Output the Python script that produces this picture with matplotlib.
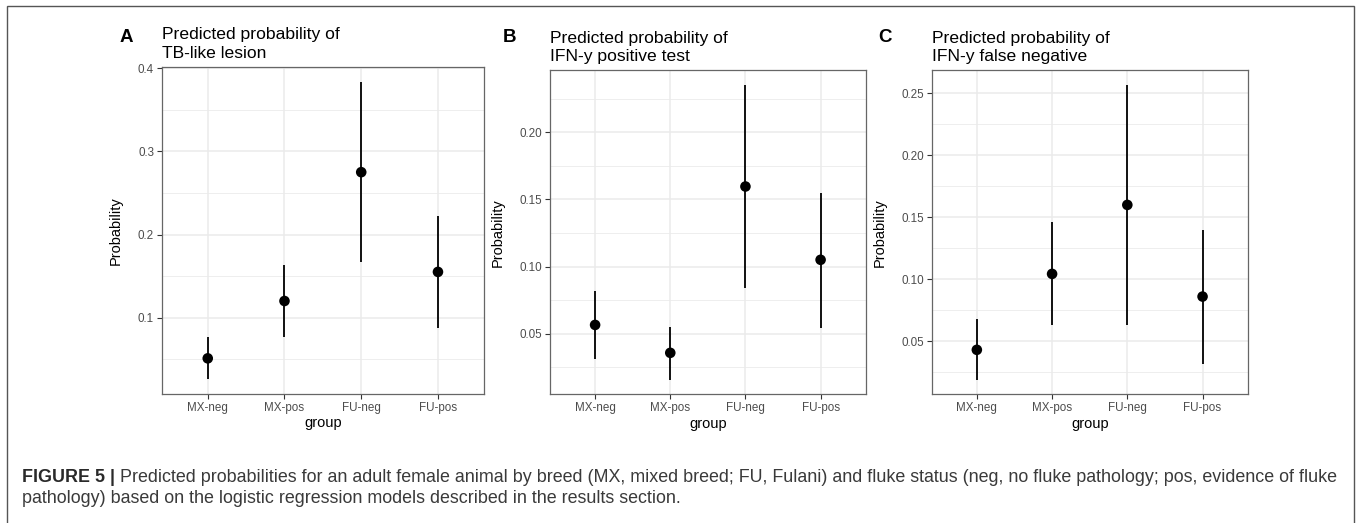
import matplotlib
matplotlib.use("Agg")
import matplotlib.pyplot as plt
from matplotlib.patches import Rectangle
from matplotlib.ticker import FixedLocator

plt.rcParams['font.family'] = ['Liberation Sans', 'DejaVu Sans']

groups = ["MX-neg", "MX-pos", "FU-neg", "FU-pos"]

# Panel A: TB-like lesion
a_est = [0.051, 0.120, 0.275, 0.155]
a_lo = [0.026, 0.077, 0.167, 0.088]
a_hi = [0.077, 0.163, 0.384, 0.222]

# Panel B: IFN-y positive test
b_est = [0.0565, 0.0357, 0.1596, 0.105]
b_lo = [0.031, 0.0158, 0.084, 0.0545]
b_hi = [0.0814, 0.055, 0.2354, 0.155]

# Panel C: IFN-y false negative
c_est = [0.043, 0.1043, 0.160, 0.086]
c_lo = [0.019, 0.063, 0.063, 0.0315]
c_hi = [0.0677, 0.146, 0.257, 0.140]

panel_letters = ["A", "B", "C"]
titles = [("Predicted probability of", "TB-like lesion"),
          ("Predicted probability of", "IFN-y positive test"),
          ("Predicted probability of", "IFN-y false negative")]
a_ticks = [0.1, 0.2, 0.3, 0.4]
a_labels = ["0.1", "0.2", "0.3", "0.4"]
b_ticks = [0.05, 0.10, 0.15, 0.20]
b_labels = ["0.05", "0.10", "0.15", "0.20"]
c_ticks = [0.05, 0.10, 0.15, 0.20, 0.25]
c_labels = ["0.05", "0.10", "0.15", "0.20", "0.25"]

caption_bold = "FIGURE 5 |"
caption_rest1 = (" Predicted probabilities for an adult female animal by breed (MX, mixed breed; FU, Fulani) "
                 "and fluke status (neg, no fluke pathology; pos, evidence of fluke")
caption_line2 = "pathology) based on the logistic regression models described in the results section."

W, H = 1357, 523
fig = plt.figure(figsize=(W / 100, H / 100), dpi=100)
fig.patch.set_facecolor("white")

def fx(px):
    return px / W

def fy(py):
    return (H - py) / H

# axes pixel boxes: left, top, right, bottom
boxes = [(161.7, 66.7, 484.0, 394.0),
         (550.0, 70.0, 865.7, 394.3),
         (931.7, 70.0, 1247.7, 394.3)]
letter_x = [126, 510, 885]
ylab_x = [122.5, 505, 886.7]

data = [(a_est, a_lo, a_hi, a_ticks, a_labels),
        (b_est, b_lo, b_hi, b_ticks, b_labels),
        (c_est, c_lo, c_hi, c_ticks, c_labels)]

grid_col = "#EBEBEB"
for i, (est, lo, hi, ticks, labels) in enumerate(data):
    l, t, r, b = boxes[i]
    ax = fig.add_axes([fx(l), fy(b), fx(r) - fx(l), fy(t) - fy(b)])
    x = list(range(len(groups)))
    ax.vlines(x, lo, hi, color="black", lw=1.3, zorder=3)
    ax.scatter(x, est, s=58, color="black", zorder=4, edgecolors="none")
    ymin, ymax = min(lo), max(hi)
    pad = 0.05 * (ymax - ymin)
    ax.set_ylim(ymin - pad, ymax + pad)
    ax.set_xlim(-0.6, len(groups) - 0.4)
    ax.set_xticks(x)
    ax.set_xticklabels(groups)
    ax.yaxis.set_major_locator(FixedLocator(ticks))
    ax.set_yticklabels(labels)
    step = ticks[1] - ticks[0]
    minors = [ticks[0] - step / 2 + k * step for k in range(len(ticks) + 1)]
    ax.yaxis.set_minor_locator(FixedLocator(minors))
    ax.tick_params(axis="y", which="minor", length=0)
    ax.grid(True, which="major", color=grid_col, lw=1.1, zorder=0)
    ax.grid(True, which="minor", axis="y", color=grid_col, lw=0.6, zorder=0)
    ax.set_axisbelow(True)
    for s in ax.spines.values():
        s.set_color("#666666")
        s.set_linewidth(0.9)
    ax.tick_params(axis="both", which="major", length=3.5, width=0.8, color="#333333",
                   labelcolor="#4D4D4D", labelsize=8.4, pad=2)
    ax.set_xlabel("group", fontsize=10.5, color="black", labelpad=2)
    ax.set_ylabel("Probability", fontsize=10.5, color="black")
    ax.yaxis.set_label_coords((ylab_x[i] - l) / (r - l), 0.5)
    fig.text(fx(l), fy(t - 27.5), titles[i][0], fontsize=12.6, ha="left", va="baseline",
             color="black")
    fig.text(fx(l), fy(t - 9), titles[i][1], fontsize=12.6, ha="left", va="baseline",
             color="black")
    fig.text(fx(letter_x[i]), fy(42.3), panel_letters[i], fontsize=13.5, fontweight="bold",
             ha="center", va="baseline", color="black")

# outer frame
fig.add_artist(Rectangle((fx(7), -0.05), fx(1354) - fx(7), fy(6) + 0.05,
                         transform=fig.transFigure, fill=False, edgecolor="#555555", lw=1.0))

# caption
cap_col = "#3A3A3A"
cap_size = 12.9
t1 = fig.text(fx(22), fy(482.5), caption_bold, fontsize=cap_size, fontweight="bold",
              ha="left", va="baseline", color="#2A2A2A")
fig.canvas.draw()
bb = t1.get_window_extent(renderer=fig.canvas.get_renderer())
fig.text(bb.x1 / W, fy(482.5), caption_rest1, fontsize=cap_size, ha="left", va="baseline", color=cap_col)
fig.text(fx(22), fy(503), caption_line2, fontsize=cap_size, ha="left", va="baseline", color=cap_col)

fig.savefig("out.png", dpi=100, facecolor="white")
